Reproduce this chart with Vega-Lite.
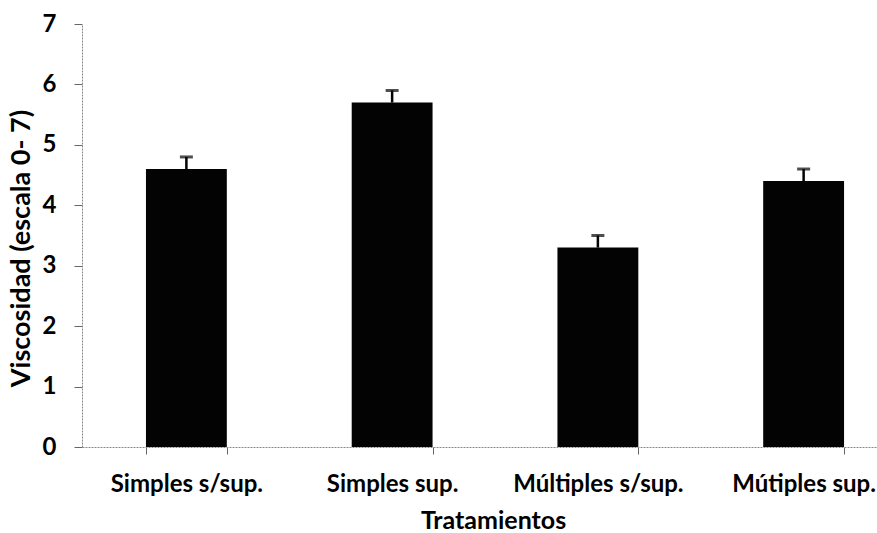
{
  "$schema": "https://vega.github.io/schema/vega-lite/v6.json",
  "autosize": {"type": "none"},
  "padding": {"left": 82, "top": 24, "right": 0, "bottom": 86},
  "width": 795,
  "height": 423,
  "background": "white",
  "config": {
    "view": {"stroke": null},
    "font": "Lato",
    "axis": {
      "labelFont": "Lato",
      "titleFont": "Lato",
      "labelFontWeight": "bold",
      "titleFontWeight": "bold",
      "labelColor": "black",
      "titleColor": "black",
      "labelFontSize": 24,
      "titleFontSize": 25,
      "grid": false,
      "domainColor": "#888",
      "domainDash": [2, 1],
      "domainWidth": 1,
      "tickColor": "#666",
      "tickWidth": 1
    }
  },
  "data": {
    "values": [
      {"tratamiento": "Simples s/sup.", "viscosidad": 4.6, "superior": 4.8},
      {"tratamiento": "Simples sup.", "viscosidad": 5.7, "superior": 5.9},
      {"tratamiento": "Múltiples s/sup.", "viscosidad": 3.3, "superior": 3.5},
      {"tratamiento": "Mútiples sup.", "viscosidad": 4.4, "superior": 4.6}
    ]
  },
  "encoding": {
    "x": {
      "field": "tratamiento",
      "type": "nominal",
      "sort": null,
      "scale": {"paddingInner": 0.607, "paddingOuter": 0.2355, "align": 0.66},
      "axis": {
        "title": "Tratamientos",
        "titleX": 411,
        "titlePadding": 12,
        "labelAngle": 0,
        "labelPadding": 18,
        "tickSize": 7,
        "tickBand": "extent"
      }
    }
  },
  "layer": [
    {
      "mark": {"type": "bar", "color": "#030303"},
      "encoding": {
        "y": {
          "field": "viscosidad",
          "type": "quantitative",
          "scale": {"domain": [0, 7], "nice": false},
          "axis": {
            "title": "Viscosidad (escala 0- 7)",
            "titleFontSize": 27,
            "values": [0, 1, 2, 3, 4, 5, 6, 7],
            "format": "d",
            "tickSize": 8,
            "labelPadding": 18,
            "titlePadding": 7,
            "titleY": 224
          }
        }
      }
    },
    {
      "mark": {"type": "rule", "color": "#030303", "strokeWidth": 2.5},
      "encoding": {
        "y": {"field": "viscosidad", "type": "quantitative"},
        "y2": {"field": "superior"}
      }
    },
    {
      "mark": {"type": "tick", "color": "#030303", "thickness": 3, "size": 13, "orient": "horizontal"},
      "encoding": {
        "y": {"field": "superior", "type": "quantitative"}
      }
    }
  ]
}
